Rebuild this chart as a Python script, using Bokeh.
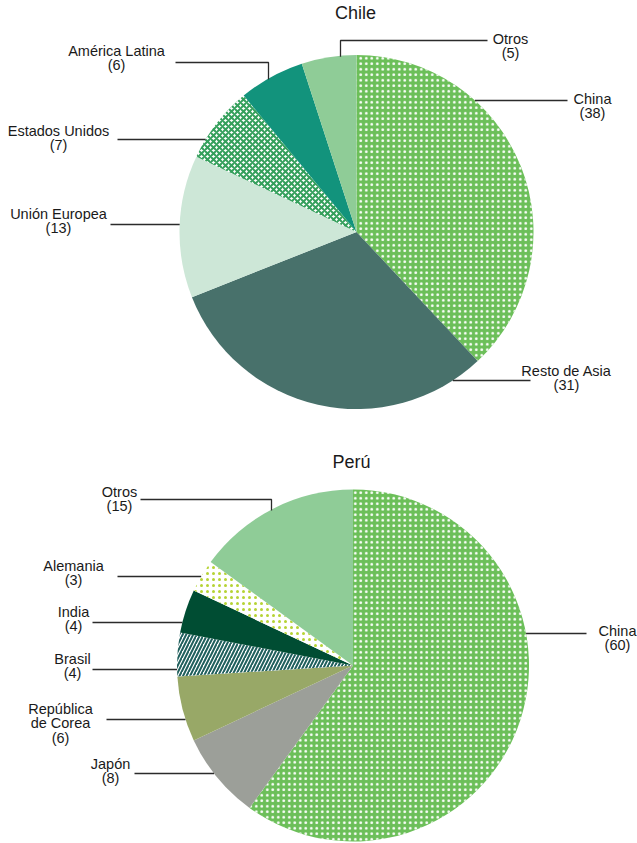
import math
from bokeh.plotting import figure
from bokeh.models import ColumnDataSource, Range1d
from bokeh.embed import file_html
from bokeh.resources import INLINE
from bokeh.core.properties import value

W, H = 637, 843

# ---------------- data ----------------
chile_names = ["China", "Resto de Asia", "Unión Europea", "Estados Unidos", "América Latina", "Otros"]
chile_values = [38, 31, 13, 7, 6, 5]

peru_names = ["China", "Japón", "República\nde Corea", "Brasil", "India", "Alemania", "Otros"]
peru_values = [60, 8, 6, 4, 4, 3, 15]

# ---------------- styles ----------------
chile_fill = ["#6cbf59", "#48716b", "#cde7d7", "#ffffff", "#12937c", "#8fcc97"]
chile_hatch = ["dot", "blank", "blank", "diagonal_cross", "blank", "blank"]
chile_hcolor = ["#ffffff", "#ffffff", "#ffffff", "#35a05c", "#ffffff", "#ffffff"]
chile_hscale = [5.5, 5, 5, 6, 5, 5]
chile_hweight = [2, 1, 1, 2, 1, 1]

peru_fill = ["#6cbf59", "#9c9f99", "#98a867", "#ffffff", "#004d33", "#ffffff", "#8fcc97"]
peru_hatch = ["dot", "blank", "blank", "right_diagonal_line", "blank", "dot", "blank"]
peru_hcolor = ["#ffffff", "#ffffff", "#ffffff", "#1f5f5c", "#ffffff", "#b6d334", "#ffffff"]
peru_hscale = [5.5, 5, 5, 7, 5, 6, 5]
peru_hweight = [2, 1, 1, 2, 1, 2.6, 1]

# layout (pixel positions): label centre x, first text line y, leader y, leader outer x, elbow x
chile_layout = [
    (592, 98, 100, 567, None),
    (566, 370, 380, 530, None),
    (58, 213, 224, 110, None),
    (58, 130, 139, 117, None),
    (116, 50, 62, 175, 268),
    (510, 38, 40, 487, 340),
]
peru_layout = [
    (617, 630, 633, 586, None),
    (110, 763, 773, 134, None),
    (60, 708, 719, 106, None),
    (72, 658, 669, 92, None),
    (73, 611, 622, 92, None),
    (73, 565, 576, 117, None),
    (119, 491, 499, 140, 271),
]

pies = [
    dict(title="Chile", tx=355, ty=12, cx=356, cy=231.5, r=177,
         names=chile_names, values=chile_values, fill=chile_fill, hatch=chile_hatch,
         hcolor=chile_hcolor, hscale=chile_hscale, hweight=chile_hweight, layout=chile_layout),
    dict(title="Perú", tx=351, ty=461, cx=352.5, cy=665, r=176,
         names=peru_names, values=peru_values, fill=peru_fill, hatch=peru_hatch,
         hcolor=peru_hcolor, hscale=peru_hscale, hweight=peru_hweight, layout=peru_layout),
]

FONT = "Liberation Sans"
TEXT_COLOR = "#1a1a1a"
LINE_HEIGHT = 14.5

p = figure(width=W, height=H, output_backend="svg", toolbar_location=None,
           x_range=Range1d(0, W), y_range=Range1d(0, H), min_border=0)
p.axis.visible = False
p.grid.visible = False
p.outline_line_color = None
p.background_fill_color = "white"
p.border_fill_color = "white"


def Y(py):
    return H - py


for pie in pies:
    vals = pie["values"]
    total = float(sum(vals))
    starts, ends = [], []
    acc = 0.0
    for v in vals:
        f0 = acc / total
        acc += v
        f1 = acc / total
        # clockwise from 12 o'clock
        starts.append(math.pi / 2 - 2 * math.pi * f1)
        ends.append(math.pi / 2 - 2 * math.pi * f0)
    n = len(vals)
    src = ColumnDataSource(dict(
        x=[pie["cx"]] * n, y=[Y(pie["cy"])] * n, r=[pie["r"]] * n,
        start=starts, end=ends, fill=pie["fill"], hatch=pie["hatch"],
        hcolor=pie["hcolor"], hscale=pie["hscale"], hweight=pie["hweight"],
    ))
    p.wedge(x="x", y="y", radius="r", start_angle="start", end_angle="end",
            direction="anticlock", source=src, fill_color="fill", line_color=None,
            hatch_pattern="hatch", hatch_color="hcolor", hatch_scale="hscale",
            hatch_weight="hweight")

    # leader lines and labels
    xs, ys = [], []
    tx, ty, tt = [], [], []
    cx, cy, r = pie["cx"], pie["cy"], pie["r"]
    for name, v, (lx, ly, liney, outx, elbow) in zip(pie["names"], vals, pie["layout"]):
        if elbow is None:
            dx = math.sqrt(max(r * r - (liney - cy) ** 2, 0))
            edge = cx + dx if outx > cx else cx - dx
            xs.append([outx, edge])
            ys.append([Y(liney), Y(liney)])
        else:
            dy = math.sqrt(max(r * r - (elbow - cx) ** 2, 0))
            edge_y = cy - dy
            xs.append([outx, elbow, elbow])
            ys.append([Y(liney), Y(liney), Y(edge_y + 1)])
        lines = name.split("\n") + ["(%d)" % v]
        for i, t in enumerate(lines):
            tx.append(lx)
            ty.append(Y(ly + i * LINE_HEIGHT))
            tt.append(t)
    p.multi_line(xs=xs, ys=ys, line_color="#2b2b2b", line_width=1.3)
    p.text(x=tx, y=ty, text=tt, text_align="center", text_baseline="middle",
           text_font=value(FONT), text_font_size="14.5px", text_color=TEXT_COLOR)
    p.text(x=[pie["tx"]], y=[Y(pie["ty"])], text=[pie["title"]], text_align="center",
           text_baseline="middle", text_font=value(FONT), text_font_size="18px",
           text_color=TEXT_COLOR)

open("out.html", "w").write(file_html(p, INLINE))
